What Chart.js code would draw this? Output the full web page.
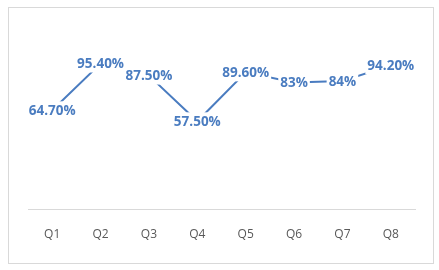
<!DOCTYPE html>
<html>
<head>
<meta charset="utf-8">
<script src="https://cdn.jsdelivr.net/npm/chart.js"></script>
<style>
    body { margin: 0; background: #fff; }
    #wrap {
        position: absolute;
        left: 8px;
        top: 7px;
        width: 424px;
        height: 255px;
        border: 1px solid #d9d9d9;
    }
</style>
</head>
<body>
<div id="wrap">
    <canvas id="lineChart"></canvas>
</div>

<script>
    // chart data
    const quarters = ['Q1', 'Q2', 'Q3', 'Q4', 'Q5', 'Q6', 'Q7', 'Q8'];
    const rates = [64.7, 95.4, 87.5, 57.5, 89.6, 83, 84, 94.2];
    const yRange = [0, 120];

    const blue = '#4a7cc0';

    function fmtPct(v) {
        return Number.isInteger(v) ? v + '%' : v.toFixed(2) + '%';
    }

    // draws value labels centred on each point, with a white box so the line breaks around them
    const pointLabels = {
        id: 'pointLabels',
        afterDatasetsDraw(chart) {
            const ctx = chart.ctx;
            const meta = chart.getDatasetMeta(0);
            ctx.save();
            ctx.font = 'bold 13.5px "Open Sans"';
            ctx.textAlign = 'center';
            ctx.textBaseline = 'middle';
            meta.data.forEach(function(pt, i) {
                const txt = fmtPct(rates[i]);
                const w = ctx.measureText(txt).width;
                ctx.fillStyle = '#fff';
                ctx.fillRect(pt.x - w / 2 - 2, pt.y - 9, w + 4, 18);
            });
            meta.data.forEach(function(pt, i) {
                ctx.fillStyle = blue;
                ctx.fillText(fmtPct(rates[i]), pt.x, pt.y + 1);
            });
            ctx.restore();
        }
    };

    new Chart(document.getElementById('lineChart'), {
        type: 'line',
        data: {
            labels: quarters,
            datasets: [{
                data: rates,
                borderColor: blue,
                borderWidth: 2,
                pointRadius: 0,
                tension: 0,
                fill: false
            }]
        },
        options: {
            responsive: true,
            maintainAspectRatio: false,
            animation: false,
            layout: {
                padding: { left: 19, right: 18, top: 18, bottom: 0 }
            },
            scales: {
                x: {
                    offset: true,
                    grid: { display: false },
                    border: { display: true, color: '#d9d9d9', width: 1 },
                    ticks: {
                        color: '#595959',
                        padding: 10,
                        font: { family: 'Open Sans', size: 12 }
                    },
                    afterFit: function(s) { s.height = 54; }
                },
                y: {
                    display: false,
                    min: yRange[0],
                    max: yRange[1]
                }
            },
            plugins: {
                legend: { display: false },
                tooltip: { enabled: false }
            }
        },
        plugins: [pointLabels]
    });
</script>
</body>
</html>
